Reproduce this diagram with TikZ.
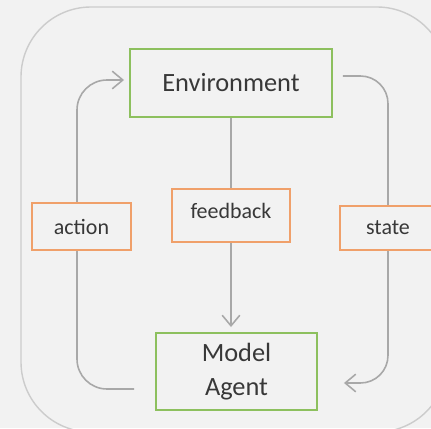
\documentclass[tikz,border=0pt]{standalone}
\usepackage{fontspec}
\setmainfont{Carlito}
\usepackage{tikz}
\usetikzlibrary{arrows.meta}
\definecolor{bg}{HTML}{F2F2F2}
\definecolor{frame}{HTML}{CCCCCC}
\definecolor{wire}{HTML}{A8A8A8}
\definecolor{leaf}{HTML}{8DC05E}
\definecolor{peach}{HTML}{F0A06A}
\definecolor{ink}{HTML}{383838}
\pgfdeclarelayer{back}
\pgfsetlayers{back,main}
\tikzset{
  mainbox/.style={draw=leaf, line width=1.1pt, fill=bg, text=ink, inner sep=0pt,
    font=\fontsize{15}{19}\selectfont, align=center},
  tagbox/.style={draw=peach, line width=1.1pt, fill=bg, text=ink, inner sep=0pt,
    font=\fontsize{12.5}{15}\selectfont},
  flow/.style={draw=wire, line width=0.9pt, -{Straight Barb[length=6pt,width=10pt]}},
  outline/.style={draw=frame, line width=0.8pt, rounded corners=1.4cm}
}
\begin{document}
\begin{tikzpicture}
  \useasboundingbox (0,0) rectangle (8.62,8.56);
  \clip (0,0) rectangle (8.62,8.56);

  \draw[outline] (0.42,-0.08) rectangle (8.94,8.42);

  % boxes
  \node[mainbox, minimum width=4.04cm, minimum height=1.36cm] (env) at (4.62,6.90) {Environment};
  \node[mainbox, minimum width=3.22cm, minimum height=1.54cm] (agent) at (4.73,1.13) {Model\\Agent};
  \node[tagbox, minimum width=1.98cm, minimum height=0.94cm] (action) at (1.63,4.03) {action};
  \node[tagbox, minimum width=2.36cm, minimum height=1.06cm, text depth=0.18cm] (feedback) at (4.62,4.25) {feedback};
  \node[tagbox, minimum width=1.92cm, minimum height=0.88cm] (state) at (7.76,4.0) {state};

  % loops behind the boxes
  \begin{pgfonlayer}{back}
    \fill[bg] (0,0) rectangle (8.62,8.56);
    \draw[flow] (env.south) -- ([yshift=0.1cm]env.south |- agent.north);
    \draw[flow, rounded corners=0.6cm] ([shift={(-0.42,-0.35)}]agent.west)
      -| ([xshift=-0.09cm]action.center) |- ([shift={(-0.1,0.06)}]env.west);
    \draw[flow, rounded corners=0.55cm] ([shift={(0.2,0.14)}]env.east)
      -| (state.center) |- ([shift={(0.52,-0.23)}]agent.east);
  \end{pgfonlayer}
\end{tikzpicture}
\end{document}
